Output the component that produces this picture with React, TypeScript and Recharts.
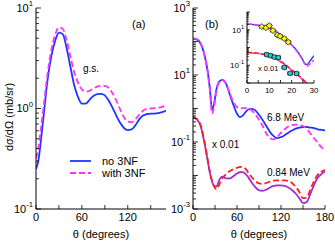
import React from 'react';
import { LineChart, ComposedChart, Line, Scatter, ErrorBar, XAxis, YAxis, Legend } from 'recharts';

// panel (a): ground state
const aTheta = [0, 3, 6, 10, 15, 20, 25, 30, 35, 40, 45, 50, 55, 60, 65, 70, 75, 80, 85, 90, 95, 100, 105, 110, 115, 120, 125, 130, 135, 140, 145, 150, 155, 160, 165, 170];
const aNo3NF = [0.25, 0.3, 0.45, 0.85, 1.9, 3.3, 4.7, 5.7, 5.5, 4.0, 2.6, 1.7, 1.3, 1.12, 1.12, 1.22, 1.33, 1.39, 1.4, 1.35, 1.2, 1.02, 0.85, 0.72, 0.64, 0.61, 0.62, 0.68, 0.78, 0.85, 0.88, 0.89, 0.89, 0.9, 0.92, 0.95];
const aWith3NF = [0.32, 0.4, 0.6, 1.05, 2.2, 3.8, 5.4, 6.4, 6.2, 4.8, 3.3, 2.3, 1.8, 1.55, 1.47, 1.5, 1.58, 1.65, 1.68, 1.68, 1.6, 1.42, 1.2, 0.98, 0.82, 0.74, 0.73, 0.78, 0.87, 0.95, 0.99, 1.0, 1.01, 1.02, 1.04, 1.07];

// panel (b): 6.8 MeV and 0.84 MeV (x 0.01)
const bTheta = [0, 5, 10, 15, 20, 23, 26, 29, 32, 36, 40, 45, 50, 55, 60, 64, 68, 72, 76, 80, 85, 90, 95, 100, 105, 110, 115, 120, 125, 130, 135, 140, 145, 150, 155, 160, 165, 170, 175, 180];
const b68No3NF = [120, 115, 90, 45, 13, 4, 0.9, 1.5, 3.8, 6.5, 7.2, 5.5, 2.7, 1.3, 0.7, 0.55, 0.62, 0.8, 0.95, 0.98, 0.88, 0.65, 0.45, 0.3, 0.2, 0.15, 0.13, 0.14, 0.16, 0.19, 0.22, 0.25, 0.27, 0.28, 0.28, 0.27, 0.26, 0.24, 0.23, 0.22];
const b68With3NF = [125, 118, 92, 45, 12, 3.5, 0.7, 1.2, 3.5, 6.3, 7.0, 5.5, 2.9, 1.6, 1.1, 1.0, 1.02, 1.03, 0.98, 0.88, 0.66, 0.46, 0.3, 0.18, 0.13, 0.12, 0.14, 0.19, 0.24, 0.29, 0.32, 0.33, 0.32, 0.3, 0.25, 0.18, 0.13, 0.095, 0.07, 0.055];
const b084No3NF = [0.55, 0.48, 0.32, 0.11, 0.028, 0.012, 0.0066, 0.0048, 0.0047, 0.0075, 0.0092, 0.0082, 0.0082, 0.0095, 0.0115, 0.0125, 0.0126, 0.011, 0.0085, 0.0062, 0.0045, 0.0036, 0.0035, 0.0038, 0.0044, 0.0049, 0.0051, 0.0051, 0.0049, 0.0044, 0.0037, 0.0029, 0.0021, 0.0015, 0.0016, 0.0028, 0.0052, 0.0085, 0.011, 0.013];
const b084With3NF = [0.56, 0.49, 0.33, 0.12, 0.03, 0.013, 0.0068, 0.0046, 0.0039, 0.0055, 0.0082, 0.011, 0.0135, 0.0155, 0.017, 0.018, 0.018, 0.0155, 0.0115, 0.009, 0.0068, 0.0058, 0.0056, 0.006, 0.0066, 0.007, 0.0072, 0.0072, 0.0072, 0.0069, 0.006, 0.0046, 0.0032, 0.0021, 0.0022, 0.0038, 0.0068, 0.0105, 0.013, 0.0145];

// inset: forward angles with data
const insTheta = [0, 2, 4, 6, 8, 10, 12, 14, 16, 18, 20, 22, 24, 25, 26, 27, 28, 29, 30];
const ins68No3NF = [21, 20, 18.5, 16.5, 14.5, 12.5, 9.5, 6.5, 4.0, 2.4, 1.4, 0.75, 0.33, 0.2, 0.12, 0.11, 0.16, 0.24, 0.35];
const ins68With3NF = [21.5, 20.5, 19, 17, 15, 12.8, 9.8, 6.7, 4.1, 2.4, 1.35, 0.7, 0.3, 0.18, 0.11, 0.09, 0.11, 0.15, 0.2];
const ins084No3NF = [0.5, 0.49, 0.47, 0.44, 0.39, 0.33, 0.26, 0.19, 0.13, 0.085, 0.053, 0.033, 0.02, 0.015, 0.0118, 0.0092, 0.007, 0.0056, 0.0046];
const ins084With3NF = [0.53, 0.52, 0.5, 0.46, 0.41, 0.35, 0.28, 0.2, 0.14, 0.09, 0.056, 0.035, 0.021, 0.016, 0.0125, 0.0098, 0.0075, 0.006, 0.005];
const exp68Theta = [6.6, 8.5, 10, 11.6, 13.6, 14.8, 16.7, 18.5];
const exp68Value = [15, 13, 17, 9, 5, 4.3, 3.2, 2.0];
const exp084Theta = [8.8, 10.5, 12.2, 14, 16.7, 19.3, 22.2];
const exp084Value = [0.4, 0.35, 0.29, 0.27, 0.075, 0.035, 0.034];
const expThetaErr = 1;

// ticks
const aXTicks = [0, 30, 60, 90, 120, 150];
const aXLabels = [0, 60, 120];
const bXTicks = [0, 30, 60, 90, 120, 150, 180];
const bXLabels = [0, 60, 120, 180];
const insXTicks = [0, 5, 10, 15, 20, 25, 30];
const insXLabels = [0, 10, 20, 30];
const aYLabels = [-1, 0, 1];
const bYLabels = [-3, -1, 1, 3];
const insYLabels = [-1, 1];

const FONT = '"Liberation Sans", Arial, Helvetica, sans-serif';
const BLUE = '#1f35ff';
const MAGENTA = '#ff33ff';
const RED = '#ff1f1f';
const PURPLE = '#9b30d9';

const logTicks = (lo: number, hi: number) => {
  const out: number[] = [];
  for (let e = lo; e < hi; e++) for (let m = 1; m < 10; m++) out.push(m * Math.pow(10, e));
  out.push(Math.pow(10, hi));
  return out;
};

const decadeOf = (v: number) => {
  const lg = Math.log10(v);
  const e = Math.round(lg);
  return Math.abs(lg - e) < 1e-6 ? e : null;
};

const Pow10 = ({ x, y, exp, size }: any) => (
  <text x={x} y={y} textAnchor="end" fontSize={size} fontFamily={FONT} fill="#000">
    <tspan dy={size * 0.35}>10</tspan>
    <tspan dy={-size * 0.5} fontSize={size * 0.7}>{exp}</tspan>
  </text>
);

// y ticks point inward; labels only on the left side
const yTick = (axisX: number, dir: number, labels: number[], size: number, len: number) => (p: any) => {
  const e = decadeOf(p.payload.value);
  const l = e !== null ? len : len * 0.6;
  return (
    <g>
      <line x1={axisX} x2={axisX + dir * l} y1={p.y} y2={p.y} stroke="#000" strokeWidth={0.8} />
      {dir > 0 && e !== null && labels.includes(e) && <Pow10 x={axisX - 3} y={p.y} exp={e} size={size} />}
    </g>
  );
};

const xTick = (axisY: number, dir: number, labels: number[], size: number, len: number) => (p: any) => {
  const v = p.payload.value;
  return (
    <g>
      <line x1={p.x} x2={p.x} y1={axisY} y2={axisY + dir * len} stroke="#000" strokeWidth={0.8} />
      {dir < 0 && labels.includes(v) && (
        <text x={p.x} y={axisY + 3} dy={size * 0.85} textAnchor="middle" fontSize={size} fontFamily={FONT} fill="#000">
          {v}
        </text>
      )}
    </g>
  );
};

const axisLine = { stroke: '#000', strokeWidth: 1 };

const LegendBox = (props: any) => (
  <div style={{ fontFamily: FONT, fontSize: 11 }}>
    {(props.payload || []).map((entry: any) => (
      <div key={entry.value} style={{ display: 'flex', alignItems: 'center', height: 12 }}>
        <svg width={24} height={12}>
          <line x1={2} x2={23} y1={6} y2={6} stroke={entry.color} strokeWidth={1.8}
            strokeDasharray={entry.payload?.strokeDasharray} />
        </svg>
        <span style={{ marginLeft: 10 }}>{entry.value}</span>
      </div>
    ))}
  </div>
);

const Diamond = (p: any) => (
  <polygon points={`${p.cx},${p.cy - 3} ${p.cx + 3},${p.cy} ${p.cx},${p.cy + 3} ${p.cx - 3},${p.cy}`}
    fill="#f5f51a" stroke="#000" strokeWidth={0.7} />
);
const Dot = (p: any) => <circle cx={p.cx} cy={p.cy} r={2.4} fill="#22cccc" stroke="#000" strokeWidth={0.7} />;

const App = () => {
  const aData = aTheta.map((t, i) => ({ t, no: aNo3NF[i], with: aWith3NF[i] }));
  const bData = bTheta.map((t, i) => ({
    t, hNo: b68No3NF[i], hWith: b68With3NF[i], lNo: b084No3NF[i], lWith: b084With3NF[i],
  }));
  const insData = insTheta.map((t, i) => ({
    t, hNo: ins68No3NF[i], hWith: ins68With3NF[i], lNo: ins084No3NF[i], lWith: ins084With3NF[i],
  }));
  const exp68 = exp68Theta.map((t, i) => ({ t, y: exp68Value[i], ex: expThetaErr }));
  const exp084 = exp084Theta.map((t, i) => ({ t, y: exp084Value[i], ex: expThetaErr }));

  const aTicksY = logTicks(-1, 1);
  const bTicksY = logTicks(-3, 3);
  const insTicksY = logTicks(-2, 2);

  return (
    <div style={{ position: 'absolute', left: 0, top: 0, width: 335, height: 242, background: '#fff', fontFamily: FONT }}>
      {/* panel (a): plot 36..166 x 8..209 */}
      <div style={{ position: 'absolute', left: 0, top: 0 }}>
        <LineChart width={170} height={242} data={aData} margin={{ top: 8, right: 4, bottom: 0, left: 0 }}>
          <XAxis dataKey="t" type="number" domain={[0, 170]} ticks={aXTicks} interval={0} height={33}
            allowDataOverflow axisLine={axisLine} tickLine={false} tick={xTick(209, -1, aXLabels, 11, 4)} />
          <XAxis xAxisId="top" orientation="top" dataKey="t" type="number" domain={[0, 170]} ticks={aXTicks}
            interval={0} height={0} allowDataOverflow axisLine={axisLine} tickLine={false} tick={xTick(8, 1, [], 11, 4)} />
          <YAxis type="number" scale="log" domain={[0.1, 10]} ticks={aTicksY} interval={0} width={36}
            allowDataOverflow axisLine={axisLine} tickLine={false} tick={yTick(36, 1, aYLabels, 11, 5)} />
          <YAxis yAxisId="right" orientation="right" type="number" scale="log" domain={[0.1, 10]} ticks={aTicksY}
            interval={0} width={0} allowDataOverflow axisLine={axisLine} tickLine={false} tick={yTick(166, -1, [], 11, 5)} />
          <Legend layout="vertical" verticalAlign="middle" align="center" content={LegendBox}
            wrapperStyle={{ left: 68, top: 155, width: 90, height: 24 }} />
          <Line name="no 3NF" dataKey="no" type="monotone" stroke={BLUE} strokeWidth={1.8} dot={false} isAnimationActive={false} />
          <Line name="with 3NF" dataKey="with" type="monotone" stroke={MAGENTA} strokeWidth={1.8} strokeDasharray="6 3"
            dot={false} isAnimationActive={false} />
        </LineChart>
      </div>

      {/* panel (b): plot 193..325 x 8..209 */}
      <div style={{ position: 'absolute', left: 160, top: 0 }}>
        <LineChart width={175} height={242} data={bData} margin={{ top: 8, right: 10, bottom: 0, left: 0 }}>
          <XAxis dataKey="t" type="number" domain={[0, 180]} ticks={bXTicks} interval={0} height={33}
            allowDataOverflow axisLine={axisLine} tickLine={false} tick={xTick(209, -1, bXLabels, 11, 4)} />
          <XAxis xAxisId="top" orientation="top" dataKey="t" type="number" domain={[0, 180]} ticks={bXTicks}
            interval={0} height={0} allowDataOverflow axisLine={axisLine} tickLine={false} tick={xTick(8, 1, [], 11, 4)} />
          <YAxis type="number" scale="log" domain={[0.001, 1000]} ticks={bTicksY} interval={0} width={33}
            allowDataOverflow axisLine={axisLine} tickLine={false} tick={yTick(33, 1, bYLabels, 11, 5)} />
          <YAxis yAxisId="right" orientation="right" type="number" scale="log" domain={[0.001, 1000]} ticks={bTicksY}
            interval={0} width={0} allowDataOverflow axisLine={axisLine} tickLine={false} tick={yTick(165, -1, [], 11, 5)} />
          <Line dataKey="hNo" type="monotone" stroke={BLUE} strokeWidth={1.8} dot={false} isAnimationActive={false} />
          <Line dataKey="hWith" type="monotone" stroke={MAGENTA} strokeWidth={1.8} strokeDasharray="6 3" dot={false} isAnimationActive={false} />
          <Line dataKey="lNo" type="monotone" stroke={PURPLE} strokeWidth={1.8} dot={false} isAnimationActive={false} />
          <Line dataKey="lWith" type="monotone" stroke={RED} strokeWidth={1.8} strokeDasharray="6 3" dot={false} isAnimationActive={false} />
        </LineChart>
      </div>

      {/* inset: plot 247..314 x 12..83 */}
      <div style={{ position: 'absolute', left: 225, top: 4 }}>
        <ComposedChart width={95} height={95} data={insData} margin={{ top: 8, right: 6, bottom: 0, left: 0 }}>
          <XAxis dataKey="t" type="number" domain={[0, 30]} ticks={insXTicks} interval={0} height={16}
            allowDataOverflow axisLine={axisLine} tickLine={false} tick={xTick(79, -1, insXLabels, 8, 3)} />
          <XAxis xAxisId="top" orientation="top" dataKey="t" type="number" domain={[0, 30]} ticks={insXTicks}
            interval={0} height={0} allowDataOverflow axisLine={axisLine} tickLine={false} tick={xTick(8, 1, [], 8, 3)} />
          <YAxis type="number" scale="log" domain={[0.01, 100]} ticks={insTicksY} interval={0} width={22}
            allowDataOverflow axisLine={axisLine} tickLine={false} tick={yTick(22, 1, insYLabels, 8, 3)} />
          <YAxis yAxisId="right" orientation="right" type="number" scale="log" domain={[0.01, 100]} ticks={insTicksY}
            interval={0} width={0} allowDataOverflow axisLine={axisLine} tickLine={false} tick={yTick(89, -1, [], 8, 3)} />
          <Line dataKey="hNo" type="monotone" stroke={BLUE} strokeWidth={1.4} dot={false} isAnimationActive={false} />
          <Line dataKey="hWith" type="monotone" stroke={MAGENTA} strokeWidth={1.4} strokeDasharray="5 2" dot={false} isAnimationActive={false} />
          <Line dataKey="lNo" type="monotone" stroke={MAGENTA} strokeWidth={1.4} dot={false} isAnimationActive={false} />
          <Line dataKey="lWith" type="monotone" stroke={RED} strokeWidth={1.4} strokeDasharray="5 2" dot={false} isAnimationActive={false} />
          <Scatter data={exp68} dataKey="y" shape={Diamond} isAnimationActive={false}>
            <ErrorBar dataKey="ex" direction="x" width={2} stroke="#000" strokeWidth={0.7} />
          </Scatter>
          <Scatter data={exp084} dataKey="y" shape={Dot} isAnimationActive={false}>
            <ErrorBar dataKey="ex" direction="x" width={2} stroke="#000" strokeWidth={0.7} />
          </Scatter>
        </ComposedChart>
      </div>

      {/* titles and annotations */}
      <svg width={335} height={242} style={{ position: 'absolute', left: 0, top: 0, pointerEvents: 'none' }}>
        <g fontFamily={FONT} fontSize={11} fill="#000">
          <text x={9} y={117} transform="rotate(-90 9 117)" textAnchor="middle" dominantBaseline="central">dσ/dΩ (mb/sr)</text>
          <text x={101} y={238} textAnchor="middle">θ (degrees)</text>
          <text x={259} y={238} textAnchor="middle">θ (degrees)</text>
          <text x={132} y={28}>(a)</text>
          <text x={83} y={72} fontSize={10}>g.s.</text>
          <text x={205} y={28}>(b)</text>
          <text x={267} y={121} fontSize={10}>6.8 MeV</text>
          <text x={212} y={148} fontSize={10}>x 0.01</text>
          <text x={267} y={176} fontSize={10}>0.84 MeV</text>
          <text x={258} y={71} fontSize={7.5}>x 0.01</text>
        </g>
      </svg>
    </div>
  );
};

export default App;
